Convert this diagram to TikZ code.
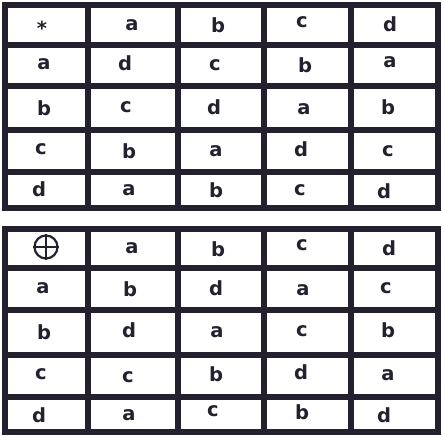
\documentclass[tikz,border=0pt]{standalone}
\usepackage{fontspec}
\setmainfont{DejaVu Sans}
\begin{document}
\begin{tikzpicture}[x=1pt,y=-1pt,
  gridline/.style={line width=6.5pt,color=ink,line cap=rect},
  cell/.style={font=\bfseries\fontsize{19.5}{19.5}\selectfont,text=ink,inner sep=0pt,anchor=center}]
\definecolor{ink}{HTML}{25202E}
\useasboundingbox (0,0) rectangle (444,444);
% top table grid
\foreach \x in {5,88,178,264,351,438} \draw[gridline] (\x,5) -- (\x,208);
\foreach \y in {5,45,86,130,172,208} \draw[gridline] (5,\y) -- (438,\y);
% bottom table grid
\foreach \x in {5,88,178,264,351,438} \draw[gridline] (\x,229) -- (\x,432);
\foreach \y in {229,268,310,355,397,432} \draw[gridline] (5,\y) -- (438,\y);
% top table texts
\node[cell] (t00) at (42,28) {*};
\node[cell] (t01) at (132,25) {a};
\node[cell] (t02) at (218,25) {b};
\node[cell] (t03) at (302,22) {c};
\node[cell] (t04) at (390,24) {d};
\node[cell] (t10) at (44,64) {a};
\node[cell] (t11) at (125,63) {d};
\node[cell] (t12) at (215,65) {c};
\node[cell] (t13) at (305,65) {b};
\node[cell] (t14) at (390,62) {a};
\node[cell] (t20) at (44,108) {b};
\node[cell] (t21) at (126,107) {c};
\node[cell] (t22) at (214,107) {d};
\node[cell] (t23) at (304,109) {a};
\node[cell] (t24) at (388,107) {b};
\node[cell] (t30) at (41,149) {c};
\node[cell] (t31) at (129,151) {b};
\node[cell] (t32) at (216,151) {a};
\node[cell] (t33) at (301,149) {d};
\node[cell] (t34) at (388,151) {c};
\node[cell] (t40) at (39,189) {d};
\node[cell] (t41) at (129,190) {a};
\node[cell] (t42) at (216,190) {b};
\node[cell] (t43) at (300,190) {c};
\node[cell] (t44) at (384,191) {d};
% bottom table texts
\node[circle,draw=ink,line width=2.2pt,minimum size=23pt,inner sep=0pt] (b00) at (46,247) {};
\draw[ink,line width=2.2pt] (b00.north) -- (b00.south) (b00.west) -- (b00.east);
\node[cell] (b01) at (132,248) {a};
\node[cell] (b02) at (218,249) {b};
\node[cell] (b03) at (302,245) {c};
\node[cell] (b04) at (389,248) {d};
\node[cell] (b10) at (43,288) {a};
\node[cell] (b11) at (130,289) {b};
\node[cell] (b12) at (216,288) {d};
\node[cell] (b13) at (303,290) {a};
\node[cell] (b14) at (386,288) {c};
\node[cell] (b20) at (44,332) {b};
\node[cell] (b21) at (129,330) {d};
\node[cell] (b22) at (217,332) {a};
\node[cell] (b23) at (302,331) {c};
\node[cell] (b24) at (388,330) {b};
\node[cell] (b30) at (41,374) {c};
\node[cell] (b31) at (128,377) {c};
\node[cell] (b32) at (216,374) {b};
\node[cell] (b33) at (301,372) {d};
\node[cell] (b34) at (388,375) {a};
\node[cell] (b40) at (39,415) {d};
\node[cell] (b41) at (129,415) {a};
\node[cell] (b42) at (213,411) {c};
\node[cell] (b43) at (302,412) {b};
\node[cell] (b44) at (384,415) {d};
\end{tikzpicture}
\end{document}
